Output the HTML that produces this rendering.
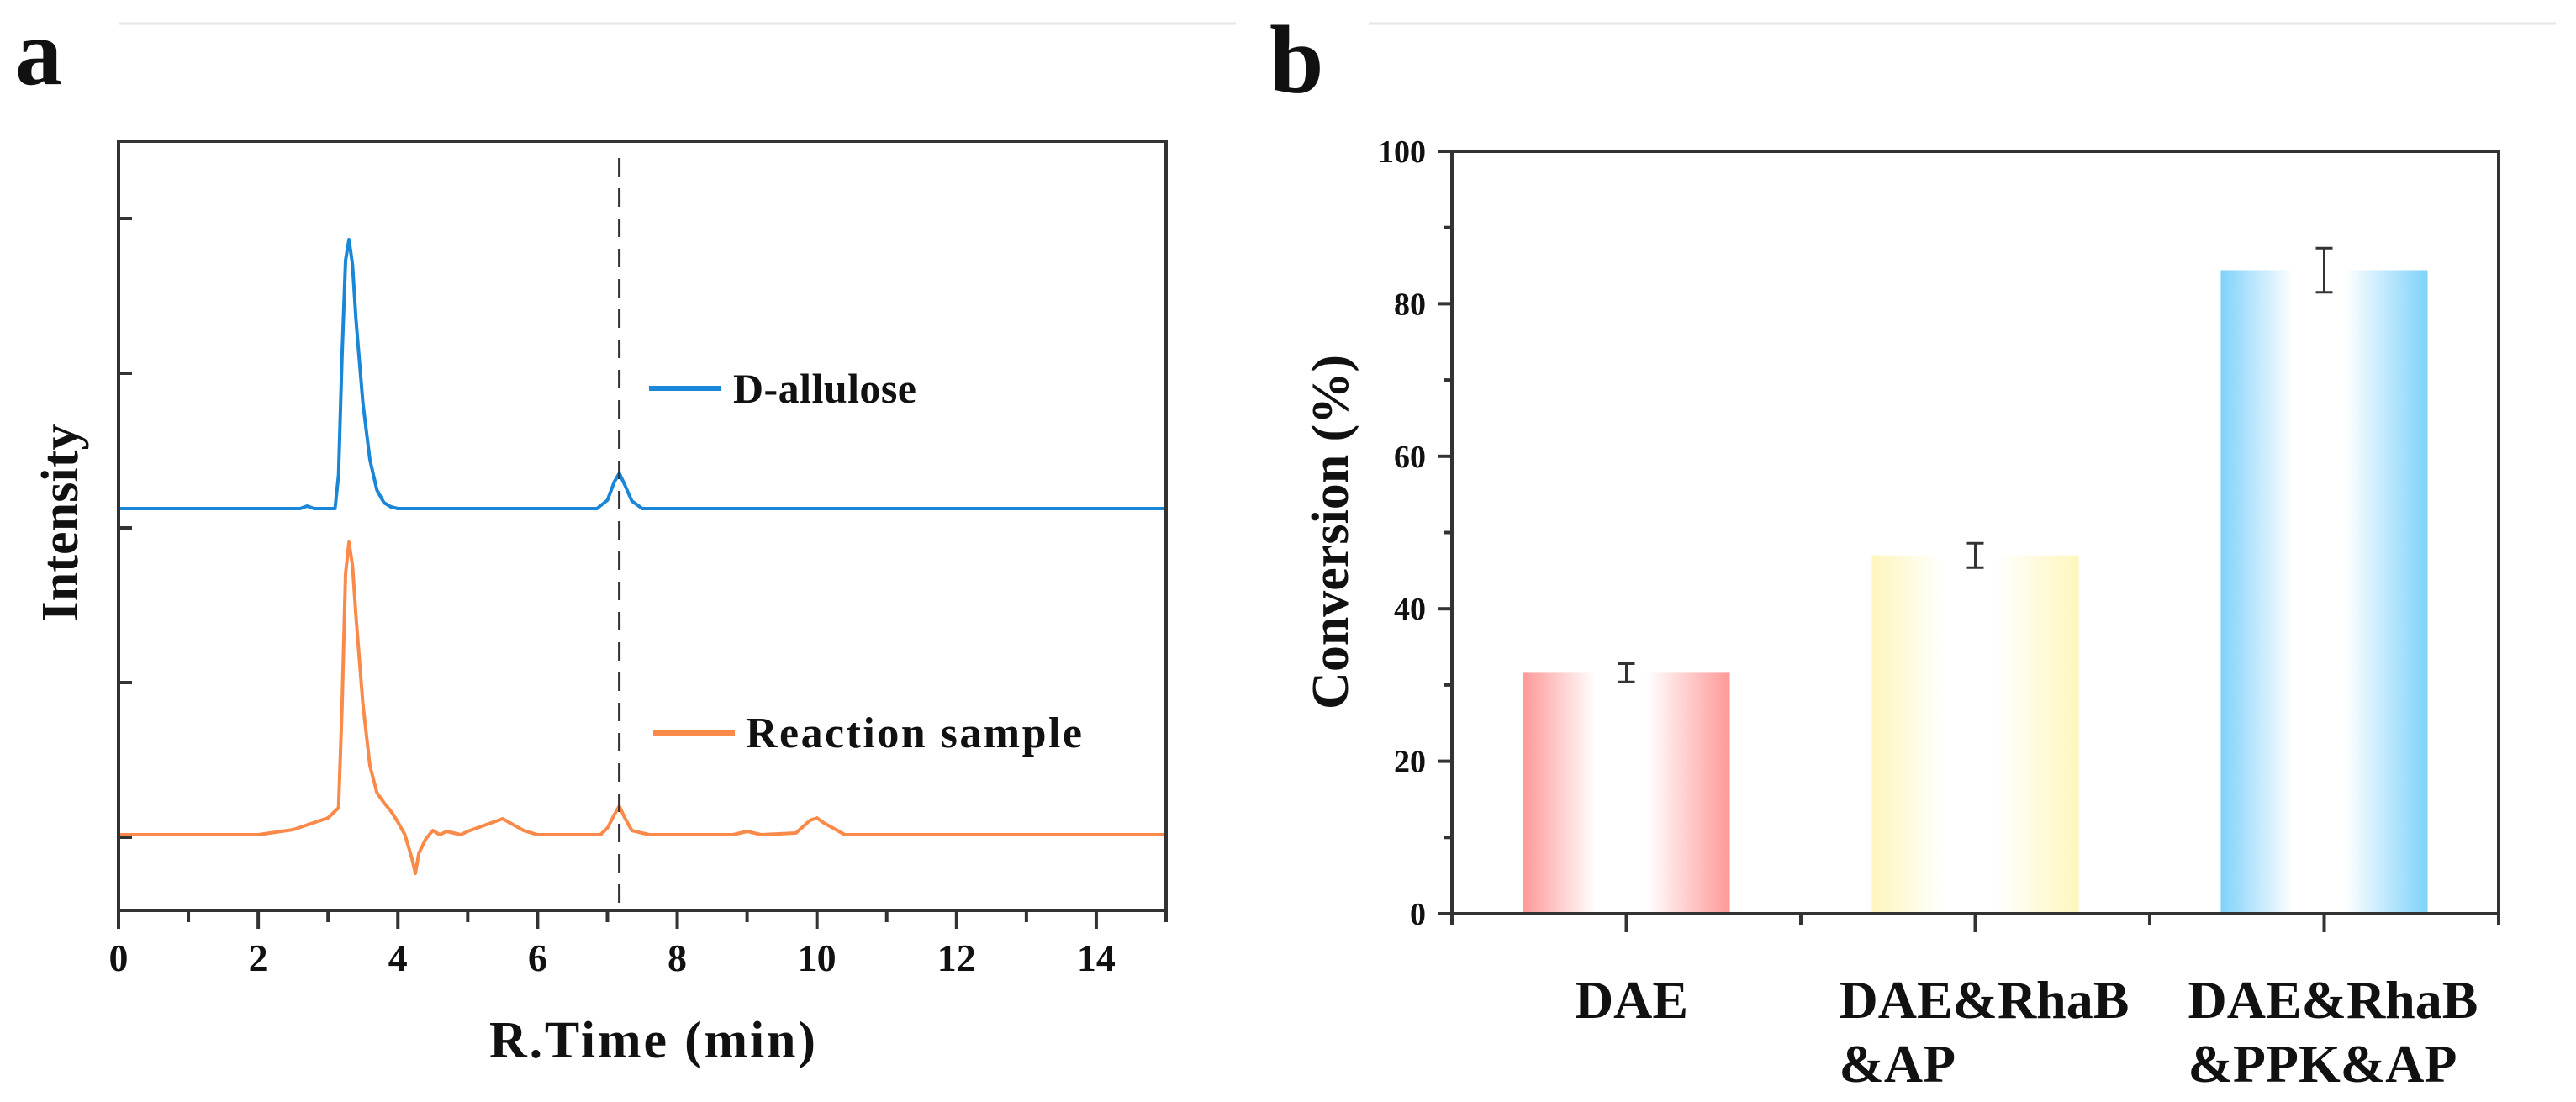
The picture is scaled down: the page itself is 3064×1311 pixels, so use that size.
<!DOCTYPE html>
<html><head><meta charset="utf-8"><style>
html,body{margin:0;padding:0;background:#fff;}
svg{display:block;}
text{font-family:"Liberation Serif",serif;font-weight:bold;fill:#111;}
</style></head><body>
<svg id="fig" width="3064" height="1311" viewBox="0 0 3064 1311" xmlns="http://www.w3.org/2000/svg">
<defs>
<linearGradient id="gRed" x1="0" x2="1" y1="0" y2="0"><stop offset="0" stop-color="#ff9898"/><stop offset="0.35" stop-color="#fff"/><stop offset="0.6" stop-color="#fff"/><stop offset="1" stop-color="#ff9898"/></linearGradient>
<linearGradient id="gYel" x1="0" x2="1" y1="0" y2="0"><stop offset="0" stop-color="#fff6bd"/><stop offset="0.35" stop-color="#fff"/><stop offset="0.6" stop-color="#fff"/><stop offset="1" stop-color="#fff6bd"/></linearGradient>
<linearGradient id="gBlu" x1="0" x2="1" y1="0" y2="0"><stop offset="0" stop-color="#7fd2fb"/><stop offset="0.35" stop-color="#fff"/><stop offset="0.6" stop-color="#fff"/><stop offset="1" stop-color="#7fd2fb"/></linearGradient>
</defs>
<line x1="141" y1="28" x2="1470" y2="28" stroke="#e6e6e6" stroke-width="3"/>
<line x1="1628" y1="28" x2="3040" y2="28" stroke="#e6e6e6" stroke-width="3"/>
<text x="18" y="100" font-size="112">a</text>
<text x="1510" y="110" font-size="116">b</text>
<g id="pa"></g>
<g id="pb"></g>
</svg>
<script>
// ---- Panel a data ----
const blueT = [0,2.6,2.7,2.8,3.1,3.15,3.2,3.25,3.3,3.35,3.4,3.5,3.6,3.7,3.8,3.9,4.0,6.85,7.0,7.1,7.17,7.25,7.35,7.5,15];
const blueV = [0,0,3,0,0,40,180,295,320,290,225,125,58,22,7,2,0,0,10,32,42,28,9,0,0];
const orangeT = [0,2.0,2.5,3.0,3.15,3.2,3.25,3.3,3.35,3.4,3.5,3.6,3.7,3.8,3.9,4.0,4.1,4.2,4.25,4.3,4.4,4.5,4.6,4.7,4.9,5.0,5.2,5.5,5.8,6.0,6.9,7.0,7.1,7.17,7.25,7.35,7.6,8.8,9.0,9.2,9.7,9.9,10.0,10.1,10.4,15];
const orangeV = [0,0,6,20,32,150,310,348,320,260,155,82,50,38,28,15,0,-28,-46,-22,-5,5,0,4,0,4,10,19,5,0,0,8,24,34,20,5,0,0,4,0,2,17,20,14,0,0];
const xTicks = [0,2,4,6,8,10,12,14];
const refLineT = 7.17;

// ---- Panel b data ----
const cats = [["DAE"],["DAE&RhaB","&AP"],["DAE&RhaB","&PPK&AP"]];
const convVals = [31.6,47.0,84.4];
const convErr = [1.2,1.6,2.9];
const yTicksB = [0,20,40,60,80,100];
const barFills = ["url(#gRed)","url(#gYel)","url(#gBlu)"];

const NS="http://www.w3.org/2000/svg";
function mk(tag,attrs,parent,txt){const e=document.createElementNS(NS,tag);for(const k in attrs)e.setAttribute(k,attrs[k]);if(txt!==undefined)e.textContent=txt;parent.appendChild(e);return e;}

// Panel a
const pa=document.getElementById('pa');
const aL=141,aR=1387,aT=168,aB=1083;
const xA=t=>aL+(t/15)*(aR-aL);
const yBlue=v=>605-v;
const yOr=v=>993-v;
let d="";
blueT.forEach((t,i)=>{d+=(i?"L":"M")+xA(t).toFixed(1)+" "+yBlue(blueV[i]).toFixed(1);});
let p=mk('path',{d:d,fill:"none",stroke:"#1a86d8","stroke-width":4,"stroke-linejoin":"round"},pa);


d="";
orangeT.forEach((t,i)=>{d+=(i?"L":"M")+xA(t).toFixed(1)+" "+yOr(orangeV[i]).toFixed(1);});
p=mk('path',{d:d,fill:"none",stroke:"#fa8a4a","stroke-width":4,"stroke-linejoin":"round"},pa);


let e=mk('line',{x1:xA(refLineT),x2:xA(refLineT),y1:aT+20,y2:aB,stroke:"#333","stroke-width":3,"stroke-dasharray":"22 14"},pa);


e=mk('rect',{x:aL,y:aT,width:aR-aL,height:aB-aT,fill:"none",stroke:"#333","stroke-width":4},pa);


[260,444,628,812,996].forEach(y=>{const t=mk('line',{x1:aL,x2:aL+16,y1:y,y2:y,stroke:"#333","stroke-width":4},pa);

});
for(let m=0;m<=15;m++){const t=mk('line',{x1:xA(m),x2:xA(m),y1:aB,y2:aB+(m%2===0?22:14),stroke:"#333","stroke-width":4},pa);

}
xTicks.forEach(v=>{const t=mk('text',{x:xA(v),y:1155,"font-size":46,"text-anchor":"middle"},pa,String(v));

});
e=mk('text',{x:(aL+aR)/2+12,y:1258,"font-size":62,"text-anchor":"middle",textLength:388},pa,"R.Time (min)");


e=mk('text',{x:0,y:0,"font-size":62,"text-anchor":"middle",transform:"translate(92,622) rotate(-90)",textLength:235},pa,"Intensity");


e=mk('line',{x1:772,x2:857,y1:462,y2:462,stroke:"#1a86d8","stroke-width":6},pa);


e=mk('text',{x:872,y:479,"font-size":50,textLength:218},pa,"D-allulose");


e=mk('line',{x1:777,x2:874,y1:872,y2:872,stroke:"#fa8a4a","stroke-width":6},pa);


e=mk('text',{x:887,y:889,"font-size":52,textLength:400},pa,"Reaction sample");



// Panel b
const pb=document.getElementById('pb');
const bL=1727,bR=2972,bT=180,bB=1087;
const yB=v=>bB-(v/100)*(bB-bT);
const band=(bR-bL)/cats.length;
const xC=i=>bL+band*(i+0.5);
const bw=246;
convVals.forEach((v,i)=>{
 const r=mk('rect',{x:xC(i)-bw/2,y:yB(v),width:bw,height:bB-yB(v),fill:barFills[i]},pb);
 
 
 const g=mk('path',{d:`M${xC(i)-10} ${yB(v+convErr[i])}H${xC(i)+10}M${xC(i)} ${yB(v+convErr[i])}V${yB(v-convErr[i])}M${xC(i)-10} ${yB(v-convErr[i])}H${xC(i)+10}`,stroke:"#333","stroke-width":3,fill:"none"},pb);
 
 
});
e=mk('path',{d:`M${bL} ${bT}H${bR}V${bB}M${bL} ${bT}V${bB}H${bR}`,stroke:"#333","stroke-width":4,fill:"none"},pb);


for(let v=0;v<=100;v+=10){const t=mk('line',{x1:bL-(v%20===0?16:10),x2:bL,y1:yB(v),y2:yB(v),stroke:"#333","stroke-width":4},pb);

}
yTicksB.forEach(v=>{const t=mk('text',{x:1696,y:yB(v)+13,"font-size":38,"text-anchor":"end"},pb,String(v));

});
for(let k=0;k<=cats.length*2;k++){const x=bL+band*k/2;const t=mk('line',{x1:x,x2:x,y1:bB,y2:bB+(k%2===1?22:14),stroke:"#333","stroke-width":4},pb);

}
cats.forEach((c,i)=>{
 if(c.length===1){const t=mk('text',{x:xC(i)+6,y:1211,"font-size":64,"text-anchor":"middle"},pb,c[0]);
 
 }
 else{const x0=xC(i)-162;
 c.forEach((s,j)=>{const t=mk('text',{x:x0,y:1211+j*76,"font-size":64},pb,s);
 
 });}
});
e=mk('text',{x:0,y:0,"font-size":62,"text-anchor":"middle",transform:"translate(1603,633) rotate(-90)"},pb,"Conversion (%)");


</script>
</body></html>
